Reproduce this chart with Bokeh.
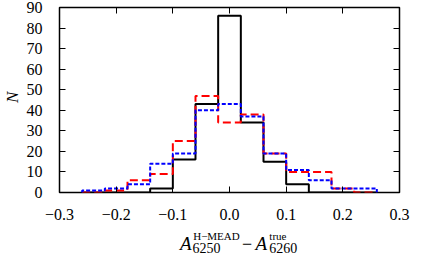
import numpy as np
from bokeh.plotting import figure
from bokeh.layouts import row, column
from bokeh.models import Range1d, LinearAxis, FixedTicker, CustomJSTickFormatter
from bokeh.core.properties import value
from bokeh.embed import file_html
from bokeh.resources import INLINE

# ---- data ----
bin_edges = [-0.26, -0.22, -0.18, -0.14, -0.10, -0.06, -0.02, 0.02, 0.06, 0.10, 0.14, 0.18, 0.22, 0.26]
counts_black = [0, 0, 0, 2, 16, 43, 86, 34, 15, 4, 0, 0, 0]
counts_red = [0, 1, 6, 9, 25, 47, 34, 38, 19, 10, 10, 2, 0]
counts_blue = [1, 2, 4, 14, 19, 40, 43, 37, 19, 11, 6, 2, 2]
x_ticks = [-0.3, -0.2, -0.1, 0.0, 0.1, 0.2, 0.3]
y_ticks = [0, 10, 20, 30, 40, 50, 60, 70, 80, 90]
ylabel_text = "N"
xlabel_main1 = "A"
xlabel_sup1 = "H\u2212MEAD"
xlabel_sub1 = "6250"
xlabel_op = "\u2212"
xlabel_main2 = "A"
xlabel_sup2 = "true"
xlabel_sub2 = "6260"

FONT = "Liberation Serif"


def outline(edges, counts):
    xs, ys = [edges[0]], [0]
    for i, c in enumerate(counts):
        xs += [edges[i], edges[i + 1]]
        ys += [c, c]
    xs.append(edges[-1])
    ys.append(0)
    return xs, ys


# ---------------- main plot ----------------
p = figure(width=397, height=225, x_range=Range1d(-0.3, 0.3), y_range=Range1d(0, 90),
           output_backend="svg", toolbar_location=None,
           min_border_left=33, min_border_right=21, min_border_top=7, min_border_bottom=33)
p.grid.visible = False
p.background_fill_color = "white"
p.border_fill_color = "white"
p.outline_line_color = "black"
p.outline_line_width = 1.5
p.outline_line_alpha = 1.0

xfmt = CustomJSTickFormatter(code="""
if (Math.abs(tick) < 1e-9) return '0.0';
return (tick < 0 ? '\u2212' : '') + Math.abs(tick).toFixed(1);
""")
yfmt = CustomJSTickFormatter(code="return Math.round(tick).toString();")
empty = CustomJSTickFormatter(code="return '';")


def style(ax, ticks, fmt, standoff):
    ax.ticker = FixedTicker(ticks=ticks)
    ax.formatter = fmt
    ax.major_tick_in = 6
    ax.major_tick_out = 0
    ax.minor_tick_line_color = None
    ax.axis_line_color = None
    ax.major_tick_line_color = "black"
    ax.major_tick_line_width = 1
    ax.major_label_standoff = standoff
    ax.major_label_text_font = FONT
    ax.major_label_text_font_size = "16px"
    ax.major_label_text_color = "black"


style(p.xaxis[0], x_ticks, xfmt, 16)
style(p.yaxis[0], y_ticks, yfmt, 17)
top = LinearAxis()
right = LinearAxis()
p.add_layout(top, "above")
p.add_layout(right, "right")
style(top, x_ticks, empty, 0)
style(right, y_ticks, empty, 0)

for counts, color, dash in [(counts_black, "black", "solid"),
                            (counts_red, "red", "8 4"),
                            (counts_blue, "blue", "4 2")]:
    xs, ys = outline(bin_edges, counts)
    p.line(xs, ys, line_color=color, line_width=2, line_dash=dash)


def blank(w, h):
    f = figure(width=w, height=h, x_range=Range1d(0, w), y_range=Range1d(h, 0),
               x_axis_type=None, y_axis_type=None, output_backend="svg",
               toolbar_location=None, min_border=0)
    f.outline_line_color = None
    f.background_fill_color = "white"
    f.border_fill_color = "white"
    return f


def put(f, x, y, text, size, italic=False, **kw):
    f.text(x=[x], y=[y], text=[text], text_font=value(FONT), text_font_size=value(size),
           text_font_style="italic" if italic else "normal", text_color="black",
           text_baseline=kw.pop("baseline", "alphabetic"), text_align=kw.pop("align", "left"), **kw)


# ---------------- x label ----------------
xl = blank(397, 29)
put(xl, 140.7, 17.5, xlabel_main1, "19px", italic=True)
put(xl, 156.1, 10.7, xlabel_sup1, "11px")
put(xl, 155.2, 22.4, xlabel_sub1, "14px")
put(xl, 213.0, 17.5, xlabel_op, "18px")
put(xl, 229.0, 17.5, xlabel_main2, "19px", italic=True)
put(xl, 245.0, 10.7, xlabel_sup2, "11px")
put(xl, 245.0, 22.4, xlabel_sub2, "14px")

# ---------------- y label ----------------
yl = blank(23, 254)
put(yl, 11.6, 96.9, ylabel_text, "17px", italic=True, angle=np.pi / 2,
    baseline="middle", align="center")

layout = row(yl, column(p, xl))
open("out.html", "w").write(file_html(layout, INLINE))
